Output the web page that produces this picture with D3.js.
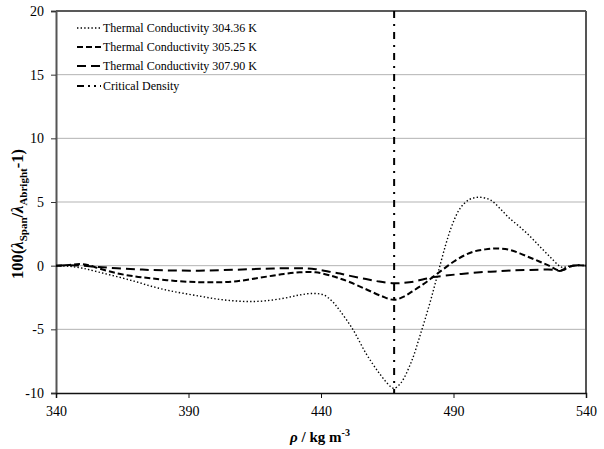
<!DOCTYPE html>
<html><head><meta charset="utf-8">
<script src="https://cdn.jsdelivr.net/npm/d3@7"></script>
<style>body{margin:0;background:#fff}svg{display:block}</style>
</head><body><svg id="c" width="604" height="449" font-family="'Liberation Serif', 'DejaVu Serif', serif"></svg>
<script>
const xTicks = [340, 390, 440, 490, 540];
const yTicks = [-10, -5, 0, 5, 10, 15, 20];
const seriesNames = ["Thermal Conductivity 304.36 K", "Thermal Conductivity 305.25 K", "Thermal Conductivity 307.90 K"];
const criticalDensity = 467.6;
const t30436 = [[340,0],[345,-0.05],[350,-0.2],[356,-0.5],[363,-0.86],[370,-1.25],[376,-1.62],[382,-1.93],[388,-2.17],[395,-2.42],[401,-2.63],[407,-2.76],[413,-2.82],[419,-2.76],[426,-2.56],[432,-2.3],[437,-2.18],[441,-2.3],[444,-2.75],[447,-3.5],[452,-5.0],[457,-6.9],[462,-8.45],[466,-9.45],[467.5,-9.63],[470,-9.25],[474,-7.6],[477.5,-5.4],[481,-3.0],[484,-0.7],[487,1.6],[489.5,3.2],[492.5,4.5],[496,5.2],[500,5.37],[504,5.15],[507.5,4.5],[511,3.75],[515,3.05],[519,2.28],[522.6,1.5],[526.4,0.7],[529.5,0.05],[531,-0.13],[534,-0.02],[537,0.02],[540,0]];
const t30525 = [[340,0],[345,0.05],[349,0.13],[352,0.05],[356,-0.2],[363,-0.6],[370,-0.85],[376,-1.0],[385,-1.2],[394,-1.3],[401,-1.3],[407,-1.25],[413,-1.08],[419.5,-0.86],[426,-0.65],[432,-0.52],[438,-0.52],[444,-0.8],[447,-1.0],[451,-1.3],[457,-1.85],[463,-2.4],[467.5,-2.68],[471,-2.45],[475,-1.95],[479,-1.4],[482.4,-0.86],[486,-0.3],[490,0.31],[494,0.8],[497.5,1.1],[502,1.28],[506.3,1.35],[511,1.25],[515,0.97],[519,0.62],[522.6,0.31],[526,0.0],[530,-0.39],[532,-0.25],[535,0],[540,0]];
const t30790 = [[340,0],[345,0.03],[350,0],[356,-0.1],[363,-0.2],[370,-0.28],[376,-0.34],[385,-0.38],[394,-0.39],[403,-0.35],[413,-0.28],[422,-0.22],[432,-0.2],[438,-0.28],[444,-0.5],[447.2,-0.62],[451,-0.8],[457,-1.05],[462,-1.25],[467.5,-1.38],[471,-1.35],[475,-1.25],[479,-1.05],[482.4,-0.9],[487,-0.78],[493,-0.65],[500,-0.52],[506,-0.45],[512,-0.38],[519,-0.34],[527.7,-0.32],[530.2,-0.42],[532,-0.3],[535,0],[540,0]];

const FONT = "'Liberation Serif', 'DejaVu Serif', serif";
const W = 604, H = 449, m = {l:56, r:18, t:11, b:56};
const svg = d3.select("#c");
const x = d3.scaleLinear().domain([340,540]).range([m.l, W-m.r]);
const y = d3.scaleLinear().domain([-10,20]).range([H-m.b, m.t]);

// gridlines
svg.append("g").selectAll("line").data(yTicks.filter(v=>v>-10 && v<20)).join("line")
  .attr("x1", x(340)).attr("x2", x(540)).attr("y1", d=>y(d)).attr("y2", d=>y(d))
  .attr("stroke", "#b3b3b3").attr("stroke-width", 1);
// top & right border
svg.append("line").attr("x1", x(340)).attr("x2", x(540)).attr("y1", y(20)).attr("y2", y(20)).attr("stroke","#222").attr("stroke-width",1.5);
svg.append("line").attr("x1", x(540)).attr("x2", x(540)).attr("y1", y(20)).attr("y2", y(-10)).attr("stroke","#555").attr("stroke-width",2);

// axes
const yAxis = svg.append("g").attr("transform", `translate(${m.l},0)`)
  .call(d3.axisLeft(y).tickValues(yTicks).tickFormat(d=>String(d)).tickSize(5).tickPadding(7));
yAxis.attr("font-family", FONT).attr("font-size", 14);
yAxis.select(".domain").attr("stroke","#555").attr("stroke-width",2);
yAxis.selectAll(".tick line").attr("stroke","#333");
yAxis.selectAll("text").attr("fill","#000");
const xAxis = svg.append("g").attr("transform", `translate(0,${H-m.b})`)
  .call(d3.axisBottom(x).tickValues(xTicks).tickFormat(d=>String(d)).tickSize(5).tickPadding(8));
xAxis.attr("font-family", FONT).attr("font-size", 14);
xAxis.select(".domain").attr("stroke","#111").attr("stroke-width",1.5);
xAxis.selectAll(".tick line").attr("stroke","#111");
xAxis.selectAll("text").attr("fill","#000");

// lines
const line = d3.line().x(d=>x(d[0])).y(d=>y(d[1])).curve(d3.curveCatmullRom.alpha(0.5));
const styles = [
  {data:t30436, dash:"1.4,2.2", w:1.4},
  {data:t30525, dash:"6,3", w:2},
  {data:t30790, dash:"9,5", w:2}
];
styles.forEach(s => {
  svg.append("path").datum(s.data).attr("d", line).attr("fill","none")
    .attr("stroke","#000").attr("stroke-width", s.w).attr("stroke-dasharray", s.dash);
});
// critical density
svg.append("line").attr("x1", x(criticalDensity)).attr("x2", x(criticalDensity))
  .attr("y1", y(20)).attr("y2", y(-10)).attr("stroke","#000").attr("stroke-width",2).attr("stroke-dasharray", "7,6,2,6");

// legend
const leg = svg.append("g").attr("font-family", FONT);
const legItems = [
  {name: seriesNames[0], dash:"1.4,2.2", w:1.4},
  {name: seriesNames[1], dash:"6,3", w:2},
  {name: seriesNames[2], dash:"9,5", w:2},
  {name: "Critical Density", dash:"7,4,2,4,2,4", w:2}
];
const rowY = [28, 47, 66, 86];
legItems.forEach((it,i) => {
  leg.append("line").attr("x1",77).attr("x2",101).attr("y1",rowY[i]).attr("y2",rowY[i])
    .attr("stroke","#000").attr("stroke-width",it.w).attr("stroke-dasharray",it.dash);
  leg.append("text").attr("x",103).attr("y",rowY[i]).attr("dy","0.35em")
    .attr("font-size",12).text(it.name);
});

// axis titles
const xt = svg.append("text").attr("x", 320).attr("y", 442).attr("text-anchor","middle")
  .attr("font-family", FONT).attr("font-size",15).attr("font-weight","bold");
xt.append("tspan").attr("font-style","italic").text("ρ");
xt.append("tspan").text(" / kg m");
xt.append("tspan").attr("dy",-6).attr("font-size",10).text("-3");

const yt = svg.append("text").attr("transform","translate(23,214) rotate(-90)").attr("text-anchor","middle")
  .attr("font-family", FONT).attr("font-size",16.5).attr("font-weight","bold");
yt.append("tspan").text("100(");
yt.append("tspan").attr("font-style","italic").text("λ");
yt.append("tspan").attr("dy",4).attr("font-size",11).text("Span");
yt.append("tspan").attr("dy",-4).text("/");
yt.append("tspan").attr("font-style","italic").text("λ");
yt.append("tspan").attr("dy",4).attr("font-size",11).text("Abright");
yt.append("tspan").attr("dy",-4).text("-1)");
</script></body></html>
